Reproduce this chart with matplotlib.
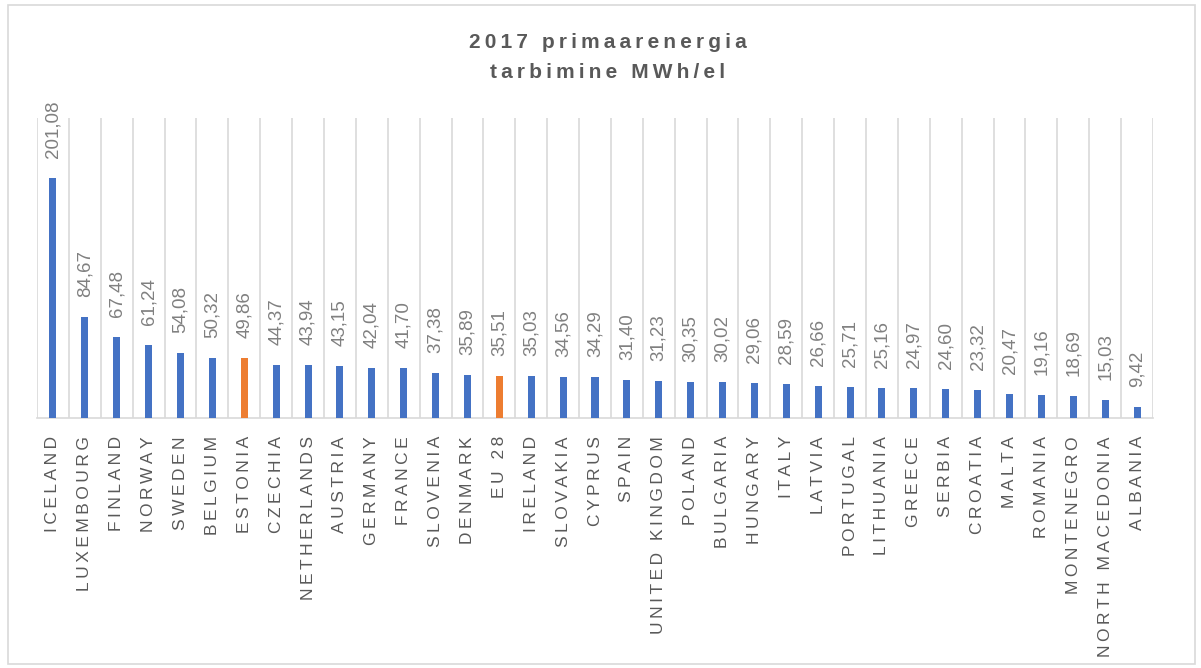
import matplotlib.pyplot as plt
from matplotlib.patches import Rectangle

countries = [
    "ICELAND", "LUXEMBOURG", "FINLAND", "NORWAY", "SWEDEN", "BELGIUM",
    "ESTONIA", "CZECHIA", "NETHERLANDS", "AUSTRIA", "GERMANY", "FRANCE",
    "SLOVENIA", "DENMARK", "EU 28", "IRELAND", "SLOVAKIA", "CYPRUS", "SPAIN",
    "UNITED KINGDOM", "POLAND", "BULGARIA", "HUNGARY", "ITALY", "LATVIA",
    "PORTUGAL", "LITHUANIA", "GREECE", "SERBIA", "CROATIA", "MALTA",
    "ROMANIA", "MONTENEGRO", "NORTH MACEDONIA", "ALBANIA",
]
values = [
    201.08, 84.67, 67.48, 61.24, 54.08, 50.32, 49.86, 44.37, 43.94, 43.15,
    42.04, 41.70, 37.38, 35.89, 35.51, 35.03, 34.56, 34.29, 31.40, 31.23,
    30.35, 30.02, 29.06, 28.59, 26.66, 25.71, 25.16, 24.97, 24.60, 23.32,
    20.47, 19.16, 18.69, 15.03, 9.42,
]
highlight = ["ESTONIA", "EU 28"]

BLUE = "#4472C4"
ORANGE = "#ED7D31"
GRID = "#D9D9D9"
TEXT = "#595959"

plt.rcParams["font.family"] = ["Liberation Sans", "DejaVu Sans"]


def spaced(s, sep="\u2009"):
    # excel style letter spacing
    return sep.join(s)


fig = plt.figure(figsize=(12.01, 6.68), dpi=100)
fig.patches.append(Rectangle((8 / 1201, 1 - 664 / 668), 1187 / 1201, 659 / 668,
                             transform=fig.transFigure, fill=False,
                             edgecolor=GRID, linewidth=1.2))

n = len(countries)
left, right = 37 / 1201, 1153 / 1201
ax = fig.add_axes([left, 250 / 668, right - left, 300 / 668])

colors = [ORANGE if c in highlight else BLUE for c in countries]
x = list(range(n))
ax.bar(x, values, width=0.22, color=colors, zorder=3)

for xi, v in zip(x, values):
    ax.annotate(f"{v:.2f}".replace(".", ","), (xi, v), xytext=(0, 20),
                textcoords="offset pixels", rotation=90, ha="center",
                va="bottom", fontsize=13.5, color="#808080")

ax.set_xlim(-0.5, n - 0.5)
ax.set_ylim(0, 251)
ax.set_xticks(x)
ax.set_xticklabels([spaced(c) for c in countries], rotation=90,
                   fontsize=12.5, color=TEXT)
ax.set_xticks([i - 0.5 for i in range(n + 1)], minor=True)
ax.tick_params(axis="x", which="both", length=0, pad=13)
ax.set_yticks([])
ax.grid(axis="x", which="minor", color=GRID, linewidth=1.2, zorder=0)
for side in ["top", "left", "right"]:
    ax.spines[side].set_visible(False)
ax.spines["bottom"].set_color(GRID)
ax.spines["bottom"].set_linewidth(1.2)

fig.text(608 / 1201, 1 - 42 / 668, spaced("2017 primaarenergia"),
         ha="center", va="center", fontsize=15, fontweight="bold", color=TEXT)
fig.text(608 / 1201, 1 - 72 / 668, spaced("tarbimine MWh/el"),
         ha="center", va="center", fontsize=15, fontweight="bold", color=TEXT)

fig.savefig("out.png", dpi=100)
